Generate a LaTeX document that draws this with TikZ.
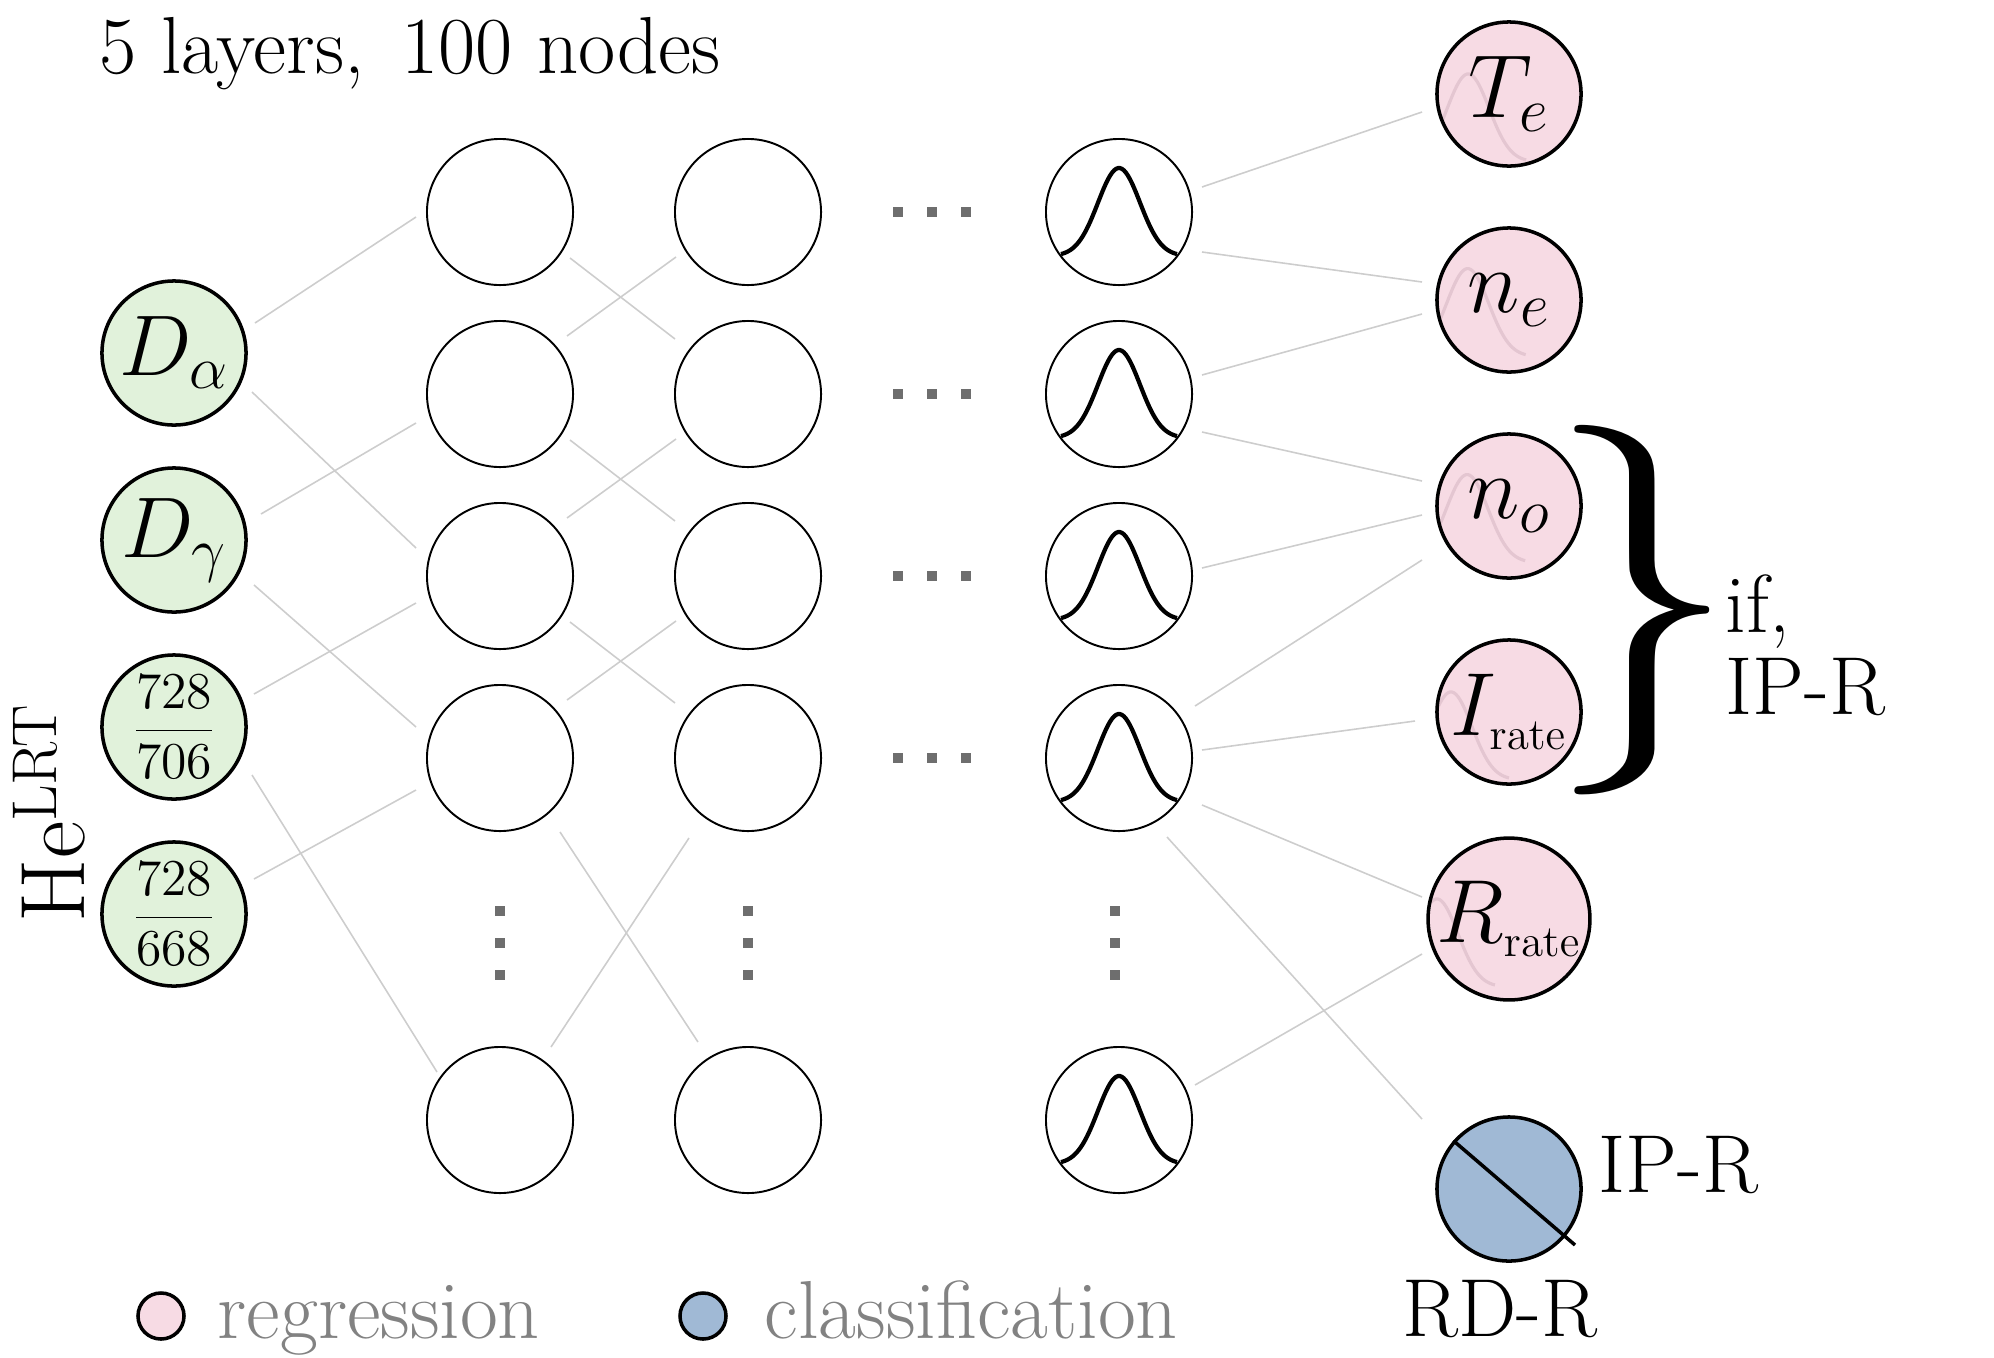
\RequirePackage{fix-cm}
\documentclass[tikz,border=0pt]{standalone}
\usepackage{graphicx}
\usetikzlibrary{calc}
\definecolor{pinkfill}{RGB}{247,219,228}
\definecolor{greenfill}{RGB}{225,242,219}
\definecolor{bluefill}{RGB}{160,185,213}
\definecolor{conncol}{RGB}{205,205,205}
\definecolor{faintcol}{RGB}{228,198,209}
\definecolor{dotgray}{RGB}{110,110,110}
\definecolor{legtext}{RGB}{130,130,130}
\begin{document}
\begin{tikzpicture}[x=0.01cm, y=-0.01cm,
  conn/.style={draw=conncol, line width=0.45pt},
  hid/.style={circle, draw, line width=0.55pt, minimum size=1.46cm, inner sep=0pt},
  act/.style={hid, path picture={\draw[line width=1.2pt, shift={(path picture bounding box.center)}] plot[domain=-58:58, samples=60, smooth] (\x, {44-88*exp(-(\x)^2/882)});}},
  inp/.style={circle, draw, line width=1pt, fill=greenfill, minimum size=1.44cm, inner sep=0pt, font=\fontsize{24.5}{28}\selectfont},
  outp/.style={circle, draw, line width=1pt, fill=pinkfill, minimum size=1.44cm, inner sep=0pt, font=\fontsize{25.5}{29}\selectfont, path picture={\draw[draw=faintcol, line width=0.9pt, shift={(path picture bounding box.center)}] plot[domain=-58:58, samples=60, smooth] (\x, {44-88*exp(-(\x)^2/882)});}},
  txt/.style={inner sep=0pt, anchor=base west, font=\fontsize{23.4}{28}\selectfont},
  legc/.style={circle, draw, line width=1pt, minimum size=0.46cm, inner sep=0pt}
]
\useasboundingbox (0,0) rectangle (1994,1357);

% title
\node[txt, font=\fontsize{23}{28}\selectfont] (title) at (99,73) {5 layers,\hspace{10.5pt}100 nodes};

% input label
\node[rotate=90, anchor=base west, inner sep=0pt, font=\fontsize{26}{30}\selectfont] (he) at (84,923) {He\raisebox{0.3em}{\fontsize{18}{22}\selectfont LRT}};

% inputs
\node[inp] (i1) at (174,353) {$D_\alpha$};
\node[inp] (i2) at (174,540) {$D_\gamma$};
\node[inp] (i3) at (174,727) {{\fontsize{14.7}{17}\selectfont$\displaystyle\frac{728}{706}$}};
\node[inp] (i4) at (174,914) {{\fontsize{14.7}{17}\selectfont$\displaystyle\frac{728}{668}$}};

% hidden layers
\foreach \n/\y in {1/212,2/394,3/576,4/758,5/1120} {
  \node[hid] (a\n) at (500,\y) {};
  \node[hid] (b\n) at (748,\y) {};
  \node[act] (c\n) at (1119,\y) {};
}

% outputs
\node[outp] (o1) at (1509,94) {$T_e$};
\node[outp] (o2) at (1509,300) {$n_e$};
\node[outp] (o3) at (1509,506) {$n_o$};
\node[outp] (o4) at (1509,712) {$I_{\scriptscriptstyle\mathrm{rate}}$};
\node[outp] (o5) at (1509,919) {$R_{\scriptscriptstyle\mathrm{rate}}$};
\node[circle, draw, line width=1pt, fill=bluefill, minimum size=1.44cm, inner sep=0pt] (cls) at (1509,1189) {};
\draw[line width=1pt] (cls.139) -- ($(cls)+(66,56)$);

% connectors
\foreach \s/\sx/\sy/\t/\tx/\ty in {
  i1/81/-30/a1/-84/5, i1/78/39/a3/-84/-28, i2/87/-26/a2/-84/29, i2/80/45/a4/-84/-31,
  i3/80/-33/a3/-84/27, i3/78/48/a5/-63/-48, i4/80/-35/a4/-84/32,
  a1/70/46/b2/-73/-55, a2/67/-58/b1/-72/45, a2/70/46/b3/-73/-55, a3/67/-58/b2/-72/45,
  a3/70/46/b4/-73/-55, a4/67/-58/b3/-72/45, a4/60/74/b5/-50/-78, a5/51/-73/b4/-59/80,
  c1/83/-25/o1/-87/18, c1/83/40/o2/-87/-18, c2/83/-19/o2/-87/14, c2/83/38/o3/-87/-25,
  c3/83/-8/o3/-87/9, c4/76/-52/o3/-87/54, c4/83/-8/o4/-94/9, c4/83/47/o5/-87/-22,
  c4/48/79/cls/-87/-70, c5/76/-35/o5/-87/35}
  \draw[conn] ($(\s)+(\sx,\sy)$) -- ($(\t)+(\tx,\ty)$);

% dots
\foreach \y in {212,394,576,758}
  \foreach \x in {898,932,966}
    \fill[dotgray] (\x-5,\y-5) rectangle ++(10,10);
\foreach \x in {500,748,1115}
  \foreach \y in {911,943,975}
    \fill[dotgray] (\x-5,\y-5) rectangle ++(10,10);

% brace and labels
\node[inner sep=0pt] (brace) at (1642,610) {\makebox[32pt]{\resizebox*{54pt}{105pt}{\}}}};
\node[txt] (ifl) at (1725,632) {if,};
\node[txt] (ipr) at (1725,714) {IP-R};
\node[txt] (ipr2) at (1598,1192) {IP-R};
\node[txt] (rdr) at (1402,1336) {RD-R};

% legend
\node[legc, fill=pinkfill] (lg1) at (161,1316) {};
\node[txt, text=legtext] (lg1t) at (217,1338) {regression};
\node[legc, fill=bluefill] (lg2) at (703,1316) {};
\node[txt, text=legtext] (lg2t) at (764,1338) {classification};
\end{tikzpicture}
\end{document}
